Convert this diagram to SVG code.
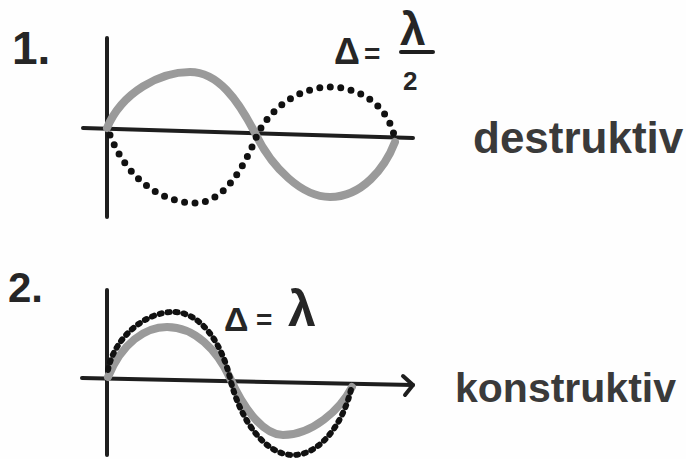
<svg xmlns="http://www.w3.org/2000/svg" width="686" height="459" viewBox="0 0 686 459">
<style>
.axis{fill:none;stroke:#1e1e1e;stroke-width:4;stroke-linecap:round;stroke-linejoin:round}
.solid{fill:none;stroke:#9a9a9a;stroke-width:8;stroke-linecap:round}
.dots{fill:none;stroke:#111;stroke-width:7;stroke-linecap:round;stroke-dasharray:0 10.5}
.dots2{fill:none;stroke:#111;stroke-width:6;stroke-linecap:round;stroke-dasharray:2 6}
.t{font-family:"Liberation Sans",Arial,sans-serif;font-weight:bold;fill:#262626}
.w{font-family:"Liberation Sans",Arial,sans-serif;font-weight:bold;fill:#3a3a3a}
</style>
<rect width="686" height="459" fill="#fefefe"/>
<g id="diagram1">
  <text class="t" x="12" y="64" font-size="46">1.</text>
  <g id="axes1">
    <line class="axis" x1="107" y1="38" x2="107" y2="217"/>
    <line class="axis" x1="83" y1="128" x2="413" y2="138"/>
  </g>
  <path class="solid" d="M107,128 C122,92 160,72 190,72 C218,72 238,100 255,133 C272,168 302,197 330,197 C362,197 385,168 395,142"/>
  <path class="dots" d="M110,135 C128,182 165,203 195,203 C225,203 245,165 258,133 C275,102 305,87 330,87 C362,87 390,108 395,140"/>
  <g id="label1">
    <text class="t" x="334" y="64" font-size="36">Δ</text>
    <text class="t" x="364" y="63" font-size="28">=</text>
    <text class="t" x="400" y="45" font-size="46">λ</text>
    <line class="axis" x1="401" y1="52" x2="433" y2="52" stroke-width="5"/>
    <text class="t" x="403" y="90" font-size="26">2</text>
  </g>
  <text class="w" x="473" y="153" font-size="44">destruktiv</text>
</g>
<g id="diagram2">
  <text class="t" x="8" y="302" font-size="42">2.</text>
  <g id="axes2">
    <line class="axis" x1="107" y1="290" x2="107" y2="455"/>
    <line class="axis" x1="82" y1="378" x2="413" y2="385"/>
    <polyline class="axis" points="403,376 413,385 405,395"/>
  </g>
  <path class="solid" d="M108,377 C122,343 145,327 167,327 C195,327 217,350 230,378 C245,412 265,435 283,435 C312,435 340,410 352,387"/>
  <path class="dots2" d="M108,370 C114,338 145,312 173,312 C202,312 222,345 230,378 C240,420 265,455 293,455 C322,455 345,420 352,385"/>
  <g id="label2">
    <text class="t" x="224" y="331" font-size="34">Δ</text>
    <text class="t" x="256" y="329" font-size="28">=</text>
    <text class="t" x="288" y="326" font-size="50">λ</text>
  </g>
  <text class="w" x="455" y="402" font-size="41">konstruktiv</text>
</g>
</svg>
